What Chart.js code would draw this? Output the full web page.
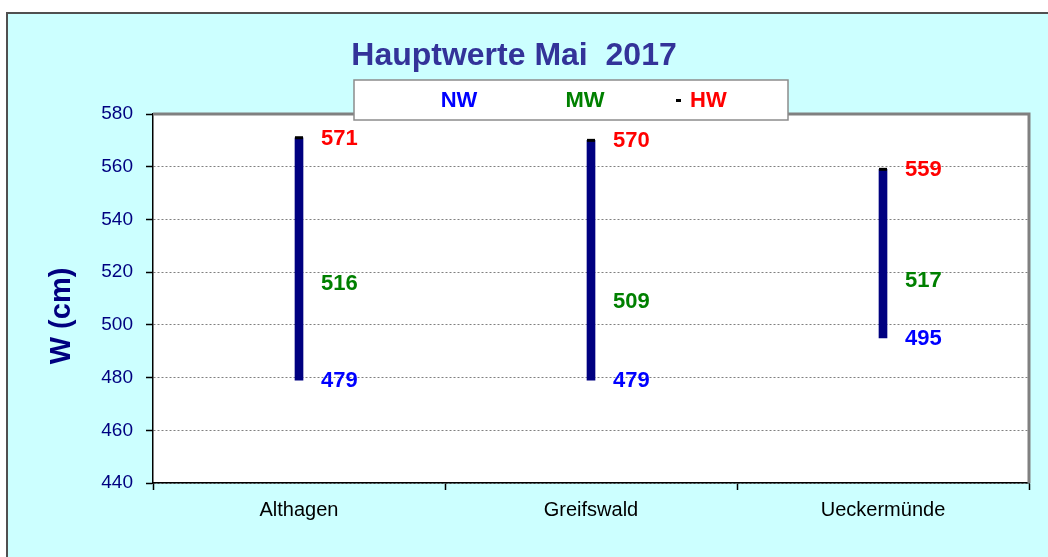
<!DOCTYPE html>
<html>
<head>
<meta charset="utf-8">
<title>Hauptwerte Mai 2017</title>
<script src="https://cdn.jsdelivr.net/npm/chart.js@4/dist/chart.umd.min.js"></script>
<style>
    html, body { margin: 0; padding: 0; background: #ffffff; }
    canvas { display: block; }
</style>
</head>
<body>
<canvas id="pegelChart" width="1048" height="557"></canvas>
<script>
// =========================
// DATA
// =========================
const categories = ["Althagen", "Greifswald", "Ueckermünde"];
const nwValues = [479, 479, 495];   // Niedrigwasser
const mwValues = [516, 509, 517];   // Mittelwasser
const hwValues = [571, 570, 559];   // Hochwasser
const yTickMin = 440;
const yTickMax = 580;
const yTickStep = 20;

const chartTitle = "Hauptwerte Mai  2017";
const yAxisTitle = "W (cm)";

const FONT = "'Liberation Sans', Arial, sans-serif";

// =========================
// BACKGROUND, FRAME, TEXTS
// =========================
const decorPlugin = {
    id: "decor",
    beforeDraw(chart) {
        const ctx = chart.ctx;
        const a = chart.chartArea;
        ctx.save();
        // cyan page
        ctx.fillStyle = "#ccffff";
        ctx.fillRect(7, 13, chart.width - 7, chart.height - 13);
        ctx.strokeStyle = "#505050";
        ctx.lineWidth = 2;
        ctx.beginPath();
        ctx.moveTo(7, chart.height);
        ctx.lineTo(7, 13);
        ctx.lineTo(chart.width, 13);
        ctx.stroke();
        // white plot area
        ctx.fillStyle = "#ffffff";
        ctx.fillRect(a.left, a.top, a.right - a.left, a.bottom - a.top);
        ctx.restore();
    },
    beforeDatasetsDraw(chart) {
        const ctx = chart.ctx;
        const a = chart.chartArea;
        ctx.save();
        ctx.strokeStyle = "#808080";
        ctx.lineWidth = 3;
        ctx.beginPath();
        ctx.moveTo(a.left, a.top);
        ctx.lineTo(a.right, a.top);
        ctx.lineTo(a.right, a.bottom);
        ctx.stroke();
        ctx.restore();
    },
    afterDatasetsDraw(chart) {
        const ctx = chart.ctx;
        const x = chart.scales.x;
        const y = chart.scales.y;
        ctx.save();
        ctx.font = "bold 22px " + FONT;
        ctx.textAlign = "left";
        ctx.textBaseline = "middle";
        categories.forEach((c, i) => {
            const px = x.getPixelForValue(i) + 22;
            ctx.fillStyle = "#ff0000";
            ctx.fillText(String(hwValues[i]), px, y.getPixelForValue(hwValues[i]) + 1);
            ctx.fillStyle = "#008000";
            ctx.fillText(String(mwValues[i]), px, y.getPixelForValue(mwValues[i]) + 1);
            ctx.fillStyle = "#0000ff";
            ctx.fillText(String(nwValues[i]), px, y.getPixelForValue(nwValues[i]) + 1);
        });
        ctx.restore();
    },
    afterDraw(chart) {
        const ctx = chart.ctx;
        ctx.save();
        // title
        ctx.font = "bold 32px " + FONT;
        ctx.fillStyle = "#333399";
        ctx.textAlign = "center";
        ctx.textBaseline = "alphabetic";
        ctx.fillText(chartTitle, 514, 65);

        // y axis title
        ctx.translate(62, 316);
        ctx.rotate(-Math.PI / 2);
        ctx.font = "bold 29px " + FONT;
        ctx.fillStyle = "#000080";
        ctx.textBaseline = "middle";
        ctx.fillText(yAxisTitle, 0, 0);
        ctx.setTransform(1, 0, 0, 1, 0, 0);

        // legend box
        ctx.fillStyle = "#ffffff";
        ctx.fillRect(354, 80, 434, 40);
        ctx.strokeStyle = "#8c8c8c";
        ctx.lineWidth = 1.5;
        ctx.strokeRect(354, 80, 434, 40);
        ctx.font = "bold 22px " + FONT;
        ctx.textBaseline = "middle";
        ctx.textAlign = "center";
        ctx.fillStyle = "#0000ff";
        ctx.fillText("NW", 459, 101);
        ctx.fillStyle = "#008000";
        ctx.fillText("MW", 585, 101);
        ctx.fillStyle = "#000000";
        ctx.fillRect(676, 99, 5, 3);
        ctx.textAlign = "left";
        ctx.fillStyle = "#ff0000";
        ctx.fillText("HW", 690, 101);
        ctx.restore();
    }
};

// =========================
// CHART
// =========================
const ctx = document.getElementById("pegelChart").getContext("2d");

new Chart(ctx, {
    data: {
        labels: categories,
        datasets: [
            {
                type: "bar",
                label: "NW-HW",
                data: categories.map((c, i) => [nwValues[i], hwValues[i]]),
                backgroundColor: "#000080",
                barThickness: 8,
                borderSkipped: false,
                order: 2
            },
            {
                type: "line",
                label: "HW",
                data: hwValues,
                showLine: false,
                pointStyle: "line",
                pointRadius: 4,
                pointBorderWidth: 3,
                pointBorderColor: "#000000",
                pointBackgroundColor: "#000000",
                order: 1
            }
        ]
    },
    options: {
        responsive: false,
        animation: false,
        devicePixelRatio: 1,
        layout: {
            padding: { left: 0, top: 114, right: 19, bottom: 0 }
        },
        plugins: {
            legend: { display: false },
            title: { display: false },
            tooltip: { enabled: false }
        },
        scales: {
            x: {
                type: "category",
                offset: true,
                afterFit: (scale) => { scale.height = 74; },
                grid: {
                    offset: true,
                    drawOnChartArea: false,
                    tickLength: 7,
                    tickColor: "#000000",
                    tickWidth: 1.5
                },
                border: { color: "#000000", width: 1.5 },
                ticks: {
                    color: "#000000",
                    padding: 8,
                    font: { family: FONT, size: 20 }
                }
            },
            y: {
                min: yTickMin,
                max: yTickMax,
                afterFit: (scale) => { scale.width = 153; },
                grid: {
                    color: "#808080",
                    lineWidth: 1,
                    tickLength: 7,
                    tickColor: "#000000",
                    tickWidth: 1.5,
                    tickBorderDash: []
                },
                border: { color: "#000000", width: 1.5, dash: [2, 2] },
                ticks: {
                    stepSize: yTickStep,
                    color: "#000080",
                    padding: 13,
                    font: { family: FONT, size: 19 }
                }
            }
        }
    },
    plugins: [decorPlugin]
});
</script>
</body>
</html>
